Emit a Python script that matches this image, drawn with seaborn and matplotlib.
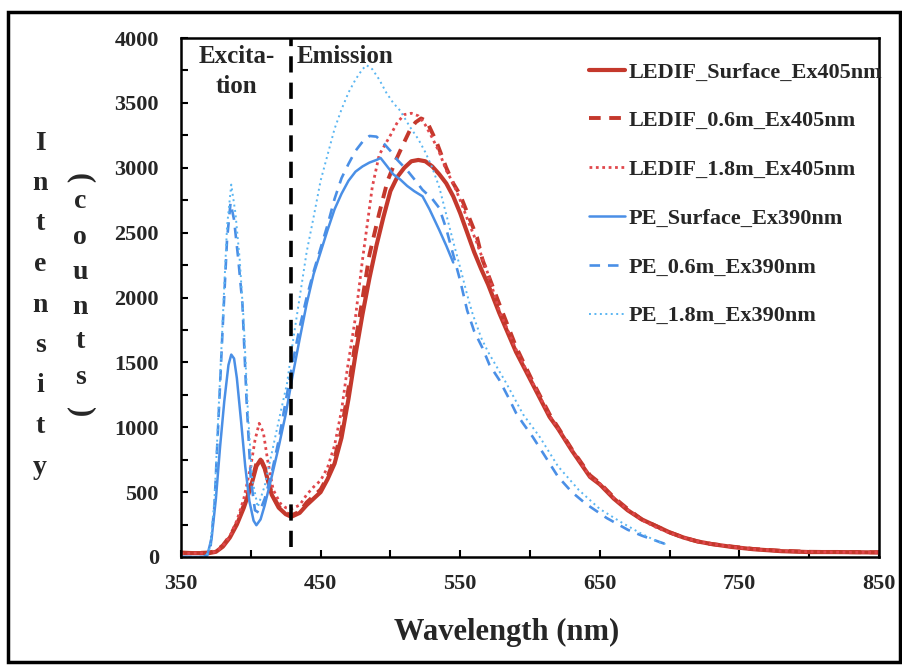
import matplotlib
matplotlib.use("Agg")
import matplotlib.pyplot as plt
import seaborn as sns
import pandas as pd
from matplotlib.patches import Rectangle
from matplotlib.ticker import MultipleLocator, FixedLocator

# ---------------- data ----------------
ledif_surface_x = [350, 360, 370, 375, 380, 385, 390, 395, 400, 404, 407, 410, 415, 420, 425, 429, 435, 440, 445,
                   450, 455, 460, 465, 470, 475, 480, 485, 490, 495, 500, 505, 510, 515, 520, 525, 530, 535, 540,
                   545, 550, 555, 560, 565, 570, 578, 590, 602, 614, 620, 630, 643, 650, 660, 670, 680, 690, 700,
                   710, 720, 730, 745, 760, 780, 800, 820, 850]
ledif_surface_y = [30, 30, 30, 40, 80, 150, 250, 380, 540, 700, 750, 680, 480, 380, 330, 310, 340, 400, 450,
                   500, 600, 720, 920, 1220, 1560, 1870, 2150, 2400, 2620, 2820, 2930, 3000, 3050, 3060, 3050, 3010,
                   2950, 2880, 2780, 2650, 2500, 2350, 2220, 2100, 1880, 1580, 1330, 1080, 990, 820, 617, 560, 450,
                   360, 290, 240, 190, 150, 120, 100, 77, 60, 45, 38, 38, 35]

ledif_06_x = [350, 360, 370, 375, 380, 385, 390, 395, 400, 404, 407, 410, 415, 420, 425, 429, 435, 440, 445, 450,
              455, 460, 465, 470, 475, 480, 485, 492, 498, 504, 510, 514, 518, 522, 526, 533, 540, 545, 550, 557,
              562, 566, 572, 578, 590, 602, 614, 620, 630, 643, 650, 660, 670, 680, 690, 700, 710, 720, 730, 745,
              760, 780, 800, 820, 850]
ledif_06_y = [35, 30, 35, 45, 90, 160, 260, 400, 560, 720, 760, 690, 490, 390, 340, 320, 350, 420, 470, 520,
              620, 760, 980, 1300, 1660, 1990, 2330, 2650, 2900, 3060, 3200, 3290, 3350, 3380, 3360, 3200, 3000,
              2880, 2790, 2600, 2466, 2290, 2120, 1950, 1620, 1350, 1100, 1000, 830, 630, 570, 460, 370, 290, 240,
              190, 150, 120, 100, 80, 62, 48, 40, 38, 36]

ledif_18_x = [350, 360, 370, 375, 380, 385, 390, 395, 400, 403, 406, 409, 412, 416, 421, 425, 429, 435, 440, 445,
              450, 455, 460, 465, 469, 475, 480, 487, 492, 500, 505, 510, 515, 520, 525, 530, 535, 540, 545, 550,
              556, 562, 570, 578, 590, 602, 614, 620, 630, 643, 650, 660, 670, 680, 690, 700, 710, 720, 730, 745,
              760, 780, 800, 820, 850]
ledif_18_y = [25, 30, 30, 40, 85, 160, 280, 450, 700, 900, 1030, 960, 750, 520, 415, 380, 370, 400, 480, 540,
              590, 690, 860, 1130, 1440, 1850, 2290, 2850, 3100, 3250, 3350, 3410, 3420, 3400, 3330, 3230, 3120,
              2980, 2880, 2750, 2580, 2420, 2180, 1900, 1600, 1340, 1090, 990, 825, 620, 565, 455, 365, 285, 230,
              185, 150, 120, 100, 78, 60, 46, 40, 37, 35]

pe_surface_x = [350, 360, 366, 369, 372, 375, 378, 381, 384, 386, 388, 390, 393, 396, 399, 402, 404, 407, 410, 415,
                420, 425, 430, 435, 440, 445, 450, 455, 460, 465, 470, 475, 480, 485, 490, 493, 497, 502, 507, 512,
                517, 523, 528, 535, 540, 545]
pe_surface_y = [0, 0, 0, 20, 150, 450, 850, 1200, 1480, 1560, 1530, 1380, 1050, 700, 430, 280, 245, 290, 400, 620,
                850, 1100, 1400, 1680, 1950, 2180, 2350, 2520, 2680, 2800, 2900, 2970, 3010, 3040, 3060, 3075, 3020,
                2950, 2910, 2860, 2820, 2780, 2680, 2520, 2400, 2270]

pe_06_x = [350, 360, 368, 371, 374, 377, 380, 383, 385.5, 388, 391, 394, 397, 400, 403, 406, 410, 415, 420, 425,
           430, 435, 440, 445, 450, 455, 460, 465, 470, 475, 480, 485, 490, 495, 500, 505, 512, 518, 523, 530, 535,
           540, 545, 550, 555, 560, 566, 571, 578, 585, 590, 595, 602, 610, 620, 630, 640, 655, 670, 680, 693, 697]
pe_06_y = [0, 0, 0, 60, 400, 1100, 1800, 2450, 2730, 2600, 2300, 1950, 1200, 600, 360, 340, 450, 650, 900, 1200,
           1500, 1770, 2000, 2200, 2380, 2560, 2760, 2920, 3030, 3130, 3200, 3245, 3240, 3190, 3130, 3060, 2980,
           2900, 2830, 2760, 2690, 2530, 2330, 2130, 1900, 1740, 1610, 1480, 1365, 1220, 1110, 1030, 925, 790, 620,
           500, 410, 300, 210, 165, 115, 100]

pe_18_x = [350, 360, 368, 371, 374, 377, 380, 383, 386, 389, 392, 395, 398, 401, 405, 410, 414, 420, 426, 430, 435,
           440, 445, 450, 455, 460, 465, 470, 475, 480, 483, 487, 492, 497, 502, 507, 514, 520, 525, 530, 535, 540,
           545, 550, 555, 559, 565, 570, 583, 595, 607, 620, 635, 650, 665, 678, 692, 697]
pe_18_y = [0, 0, 0, 80, 450, 1150, 1850, 2550, 2870, 2650, 2300, 1800, 1100, 600, 385, 550, 750, 1050, 1340, 1650,
           2000, 2350, 2620, 2900, 3100, 3300, 3450, 3580, 3680, 3760, 3790, 3760, 3680, 3580, 3500, 3440, 3315,
           3220, 3120, 3000, 2850, 2640, 2430, 2230, 2020, 1870, 1690, 1580, 1340, 1100, 925, 700, 516, 370, 270,
           190, 115, 100]

series_labels = ["LEDIF_Surface_Ex405nm", "LEDIF_0.6m_Ex405nm", "LEDIF_1.8m_Ex405nm",
                 "PE_Surface_Ex390nm", "PE_0.6m_Ex390nm", "PE_1.8m_Ex390nm"]
x_tick_labels = [350, 450, 550, 650, 750, 850]
y_tick_labels = [0, 500, 1000, 1500, 2000, 2500, 3000, 3500, 4000]
divider_nm = 429

# ---------------- style ----------------
sns.set_style("ticks")
plt.rcParams["font.family"] = ["Liberation Serif", "DejaVu Serif"]
plt.rcParams["font.weight"] = "bold"

RED = "#C4382C"
RED_LIGHT = "#E0474C"
BLUE = "#4A8FE6"
BLUE_LIGHT = "#5AB6F2"

fig = plt.figure(figsize=(9.02, 6.65), dpi=100)
ax = fig.add_axes([181 / 902, 1 - 557 / 665, (879 - 181) / 902, (557 - 38) / 665])

specs = [
    (ledif_surface_x, ledif_surface_y, series_labels[0], RED, "-", 3.0),
    (ledif_06_x, ledif_06_y, series_labels[1], RED, (0, (3, 2.2)), 2.8),
    (ledif_18_x, ledif_18_y, series_labels[2], RED_LIGHT, (0, (1, 1.3)), 2.0),
    (pe_surface_x, pe_surface_y, series_labels[3], BLUE, "-", 1.8),
    (pe_06_x, pe_06_y, series_labels[4], BLUE, (0, (4, 3)), 1.9),
    (pe_18_x, pe_18_y, series_labels[5], BLUE_LIGHT, (0, (1, 1.8)), 1.4),
]
for xs, ys, lab, col, ls, lw in specs:
    df = pd.DataFrame({"x": xs, "y": ys})
    sns.lineplot(data=df, x="x", y="y", ax=ax, color=col, linestyle=ls, linewidth=lw,
                 label=lab, estimator=None, sort=True)

ax.axvline(divider_nm, ymin=0.02, ymax=1.0, color="black", linewidth=2.6, linestyle=(0, (4.5, 2.8)))

ax.set_xlim(350, 850)
ax.set_ylim(0, 4000)
ax.xaxis.set_major_locator(FixedLocator(x_tick_labels))
ax.xaxis.set_minor_locator(FixedLocator([400, 500, 600, 700, 800]))
ax.yaxis.set_major_locator(FixedLocator(y_tick_labels))
ax.yaxis.set_minor_locator(MultipleLocator(250))
ax.tick_params(axis="both", which="both", direction="in", length=5, width=1.5, color="black")
ax.tick_params(axis="x", which="major", labelsize=16, pad=12)
ax.tick_params(axis="y", which="major", labelsize=16, pad=16)
for lbl in ax.get_xticklabels() + ax.get_yticklabels():
    lbl.set_fontweight("bold")
for s in ax.spines.values():
    s.set_visible(True)
    s.set_linewidth(1.8)
    s.set_color("black")
ax.set_xlabel("Wavelength (nm)", fontsize=22, fontweight="bold")
ax.xaxis.set_label_coords(0.466, -0.117)
ax.set_ylabel("")

ax.text(390, 3860, "Excita-", fontsize=18, fontweight="bold", ha="center", va="center")
ax.text(390, 3630, "tion", fontsize=18, fontweight="bold", ha="center", va="center")
ax.text(433, 3860, "Emission", fontsize=18, fontweight="bold", ha="left", va="center")

leg = ax.legend(loc="upper left", bbox_to_anchor=(0.585, 0.954), frameon=False, fontsize=16,
                handlelength=1.6, handletextpad=0.15, labelspacing=1.27, borderaxespad=0, borderpad=0)
for t in leg.get_texts():
    t.set_fontweight("bold")

# vertical stacked y-axis label
for i, ch in enumerate("Intensity"):
    fig.text(40 / 902, 1 - (143 + i * 40.5) / 665, ch, fontsize=20, fontweight="bold",
             ha="center", va="center")
for i, ch in enumerate("counts"):
    fig.text(80 / 902, 1 - (202 + i * 35) / 665, ch, fontsize=20, fontweight="bold",
             ha="center", va="center")
fig.text(80 / 902, 1 - 178 / 665, "(", fontsize=22, fontweight="bold", rotation=-90, ha="center", va="center")
fig.text(80 / 902, 1 - 412 / 665, ")", fontsize=22, fontweight="bold", rotation=-90, ha="center", va="center")

# outer frame
fig.patches.append(Rectangle((8 / 902, 3 / 665), 892 / 902, 650 / 665, transform=fig.transFigure,
                             fill=False, edgecolor="black", linewidth=2.5))

fig.savefig("out.png", dpi=100)
